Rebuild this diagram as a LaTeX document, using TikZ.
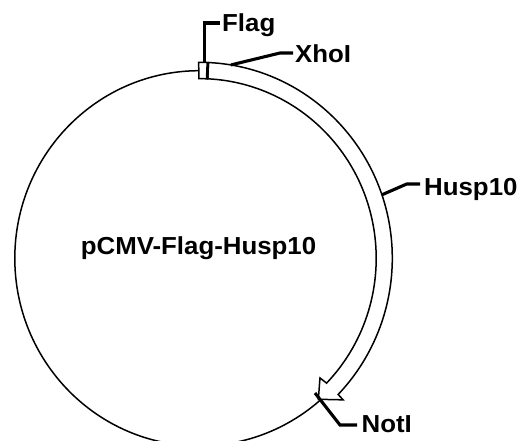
\documentclass[tikz,border=0pt]{standalone}
\usepackage{fontspec}
\setmainfont{Liberation Sans}[FakeStretch=1.05]
\begin{document}
\begin{tikzpicture}[x=1pt,y=-1pt, line join=miter,
  thinline/.style={line width=1.5pt},
  leader/.style={line width=3.1pt},
  lbl/.style={font=\fontsize{24.6}{30}\selectfont\bfseries, inner sep=0pt, anchor=base west}]
\useasboundingbox (0,0) rectangle (519,441);
\begin{scope}[shift={(199.4,258.3)}, y=1pt]
  % plasmid circle
  \draw[thinline] (0,0) ellipse [x radius=184.6pt, y radius=187.6pt];
  % Husp10 insert band with arrow head
  \draw[thinline, fill=white]
    (87.3:192.9pt and 196pt)
    arc[start angle=87.3, end angle=-44, x radius=192.9pt, y radius=196pt]
    -- (-44.1:200.1pt and 203.4pt)
    -- (-49.4:182.8pt and 185.7pt)
    -- (-44.3:168.5pt and 171.3pt)
    -- (-44:176.8pt and 179.7pt)
    arc[start angle=-44, end angle=87.3, x radius=176.8pt, y radius=179.7pt]
    -- cycle;
  % Flag box
  \draw[thinline, fill=white]
    (90.2:176.8pt and 179.7pt) -- (90.2:192.9pt and 196pt)
    -- (87.3:192.9pt and 196pt) -- (87.3:176.8pt and 179.7pt) -- cycle;
  \draw[line width=2.4pt] (87.55:176.8pt and 179.7pt) -- (87.55:192.9pt and 196pt);
  % leader start points
  \coordinate (fs) at (88.4:192.9pt and 196pt);
  \coordinate (xs) at (80.6:192.9pt and 196pt);
  \coordinate (hs) at (18.9:192.9pt and 196pt);
\end{scope}
\coordinate (ns) at (315,393);
\coordinate (fc) at (220,23);
\coordinate (xm) at (280,53);
\coordinate (xc) at (293,53);
\coordinate (hm) at (406.7,184);
\coordinate (hc) at (420,184);
\coordinate (nm) at (340,425);
\coordinate (nc) at (357,425);
% labels
\node[lbl] (flag) at (222,31.5) {Flag};
\node[lbl] (xho) at (295,63) {XhoI};
\node[lbl] (husp) at (424,195) {Husp10};
\node[lbl] (noti) at (361.5,432.5) {NotI};
\node[lbl, anchor=base] (name) at (198.5,254.3) {pCMV-Flag-Husp10};
% leaders
\draw[leader] (fs) |- (fc);
\draw[leader] (xs) -- (xm) -- (xc);
\draw[leader] (hs) -- (hm) -- (hc);
\draw[leader] (ns) -- (nm) -- (nc);
\end{tikzpicture}
\end{document}
